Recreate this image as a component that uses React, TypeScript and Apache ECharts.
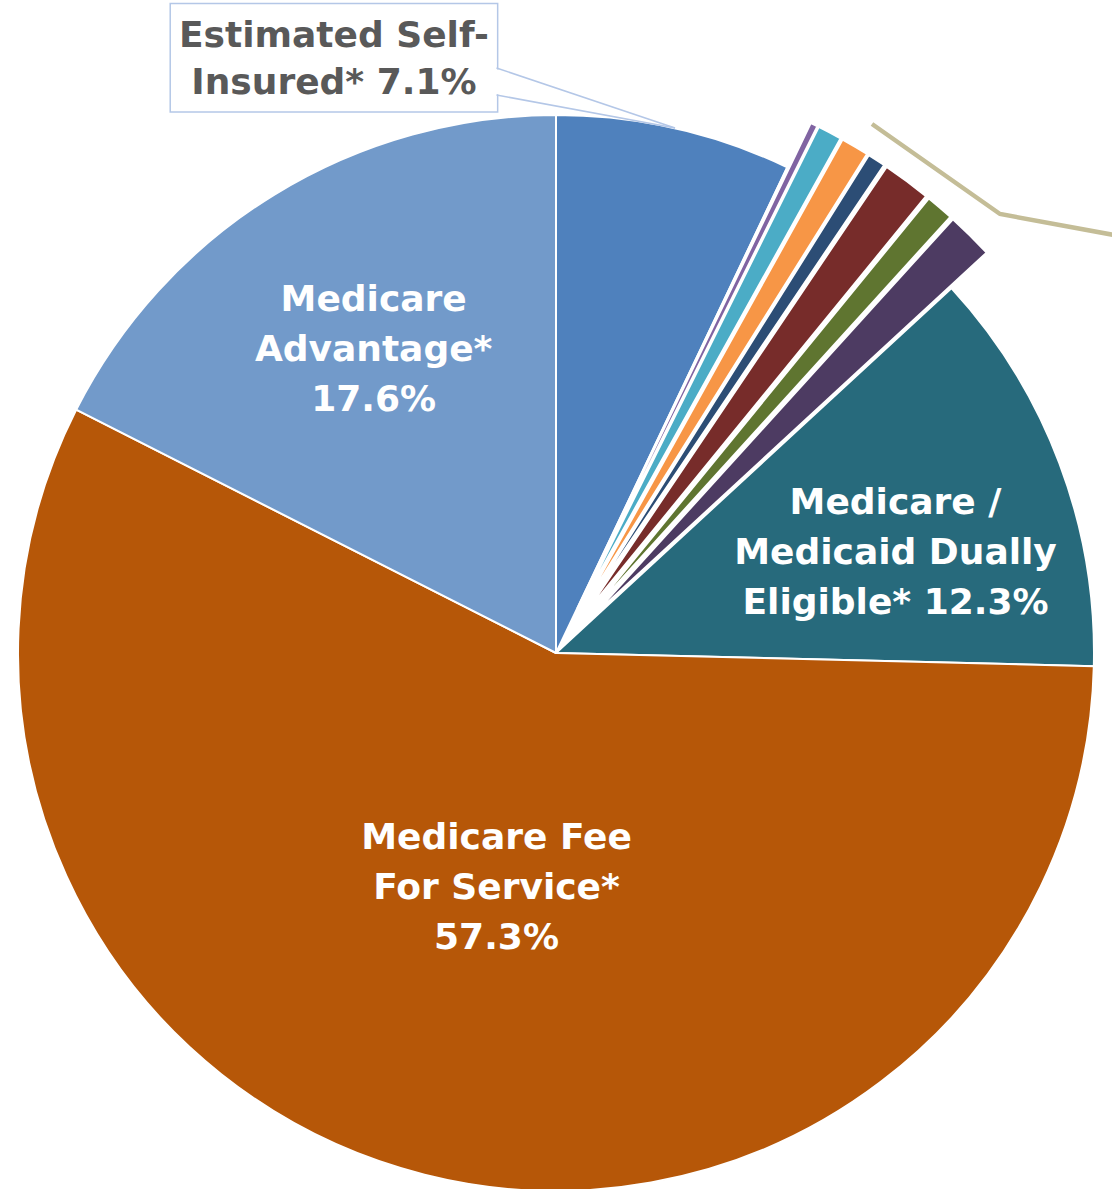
import React, { useEffect, useRef } from 'react';
import * as echarts from 'echarts';

// ---- data ----
const categories = [
  'Estimated Self-Insured*',
  'Other payer A',
  'Other payer B',
  'Other payer C',
  'Other payer D',
  'Other payer E',
  'Other payer F',
  'Other payer G',
  'Other payer H',
  'Medicare / Medicaid Dually Eligible*',
  'Medicare Fee For Service*',
  'Medicare Advantage*',
];
const values = [7.1, 0.05, 0.22, 0.73, 0.84, 0.54, 1.46, 0.84, 1.41, 12.3, 57.3, 17.6];
const labelNames: (string | null)[] = [
  'Estimated Self-\nInsured*',
  null, null, null, null, null, null, null, null,
  'Medicare /\nMedicaid Dually\nEligible*',
  'Medicare Fee\nFor Service*',
  'Medicare\nAdvantage*',
];
const valueSeparators = [' ', '', '', '', '', '', '', '', '', ' ', '\n', '\n'];
const explodedSlices = [false, true, true, true, true, true, true, true, true, false, false, false];

// ---- styles ----
const colors = [
  '#4F81BD', '#9BBB59', '#8064A2', '#4BACC6', '#F79646', '#2C4D75',
  '#772C2A', '#5F7530', '#4D3B62', '#276A7C', '#B65708', '#729ACA',
];
const labelOffsets: Record<number, [number, number]> = {
  0: [-282, -330],
  9: [85, -6],
  10: [7, -30],
  11: [-40, -73],
};

export default function App() {
  const ref = useRef<HTMLDivElement>(null);

  useEffect(() => {
    if (!ref.current) return;
    const chart = echarts.init(ref.current, null, { renderer: 'svg' });

    const data = categories.map((name, i) => {
      const item: any = {
        name,
        value: values[i],
        selected: explodedSlices[i],
        itemStyle: { color: colors[i] },
      };
      if (labelNames[i] === null) {
        item.label = { show: false };
        item.labelLine = { show: false };
      } else if (i === 0) {
        item.label = {
          show: true,
          position: 'inside',
          offset: labelOffsets[i],
          color: '#595959',
          fontSize: 36,
          lineHeight: 47,
          fontWeight: 'bold',
          fontFamily: 'DejaVu Sans',
          backgroundColor: '#ffffff',
          borderColor: '#B4C7E7',
          borderWidth: 1.5,
          padding: [8, 8, 5, 8],
        };
      } else {
        item.label = {
          show: true,
          position: 'inside',
          offset: labelOffsets[i],
        };
      }
      return item;
    });

    const option: any = {
      animation: false,
      backgroundColor: '#ffffff',
      series: [
        {
          type: 'pie',
          center: [556, 653],
          radius: [0, 538],
          startAngle: 90,
          clockwise: true,
          selectedMode: 'multiple',
          selectedOffset: 50,
          avoidLabelOverlap: false,
          minShowLabelAngle: 0,
          z: 2,
          itemStyle: { borderColor: '#ffffff', borderWidth: 2 },
          emphasis: { disabled: true, scale: false },
          select: { itemStyle: { borderColor: '#ffffff', borderWidth: 2 } },
          label: {
            show: true,
            position: 'inside',
            color: '#ffffff',
            fontSize: 36,
            lineHeight: 50,
            fontWeight: 'bold',
            fontFamily: 'DejaVu Sans',
            align: 'center',
            formatter: (p: any) => {
              const n = labelNames[p.dataIndex];
              if (n === null) return '';
              return n + valueSeparators[p.dataIndex] + p.value + '%';
            },
          },
          labelLine: { show: false },
          data,
        },
      ],
      graphic: {
        elements: [
          {
            type: 'polygon',
            z: 100,
            shape: { points: [[496, 69], [675, 128], [496, 94]] },
            style: { fill: '#ffffff', stroke: 'none' },
          },
          {
            type: 'line',
            z: 101,
            shape: { x1: 496.5, y1: 68, x2: 675, y2: 128 },
            style: { stroke: '#B4C7E7', lineWidth: 1.5 },
          },
          {
            type: 'line',
            z: 101,
            shape: { x1: 496.5, y1: 95, x2: 675, y2: 128 },
            style: { stroke: '#B4C7E7', lineWidth: 1.5 },
          },
          {
            type: 'polyline',
            z: 100,
            shape: { points: [[872, 124], [1000, 214], [1114, 235]] },
            style: { stroke: '#C4BD97', lineWidth: 4.5, fill: 'none' },
          },
        ],
      },
    };

    chart.setOption(option);
    return () => chart.dispose();
  }, []);

  return (
    <div
      ref={ref}
      style={{ position: 'fixed', left: 0, top: 0, width: 1112, height: 1189, background: '#fff' }}
    />
  );
}
